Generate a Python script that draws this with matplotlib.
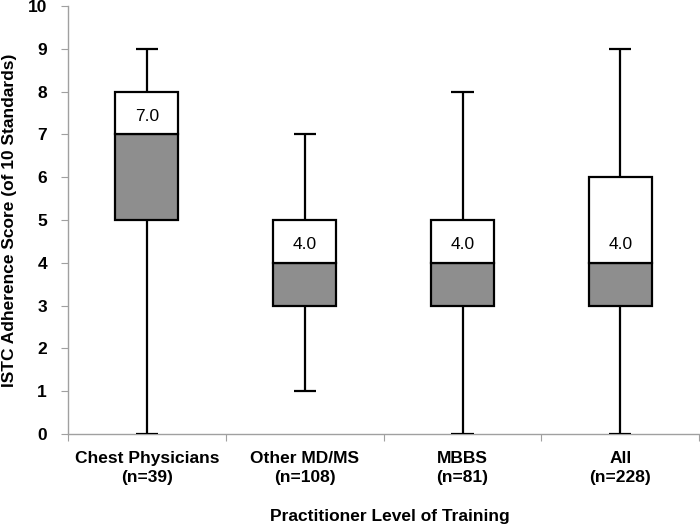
import matplotlib.pyplot as plt

plt.rcParams['font.family'] = ['Liberation Sans', 'DejaVu Sans']

groups = ["Chest Physicians\n(n=39)", "Other MD/MS\n(n=108)", "MBBS\n(n=81)", "All\n(n=228)"]
low = [0, 1, 0, 0]
q1 = [5, 3, 3, 3]
median = [7, 4, 4, 4]
q3 = [8, 5, 5, 6]
high = [9, 7, 8, 9]

fig = plt.figure(figsize=(7, 5.25), dpi=100)
ax = fig.add_axes([0.097, 0.1733, 0.902, 0.8153])

x = list(range(len(groups)))
w = 0.4
cap = 0.14

# whiskers first so boxes sit on top
ax.vlines(x, low, q1, color="black", lw=1.6, zorder=2)
ax.vlines(x, q3, high, color="black", lw=1.6, zorder=2)
ax.hlines(low, [i - cap / 2 for i in x], [i + cap / 2 for i in x], color="black", lw=1.6, zorder=2)
ax.hlines(high, [i - cap / 2 for i in x], [i + cap / 2 for i in x], color="black", lw=1.6, zorder=2)

lower = [m - a for m, a in zip(median, q1)]
upper = [b - m for b, m in zip(q3, median)]
ax.bar(x, lower, width=w, bottom=q1, color="#8e8e8e", edgecolor="black", lw=1.6, zorder=3)
ax.bar(x, upper, width=w, bottom=median, color="white", edgecolor="black", lw=1.6, zorder=3)

for i, m in zip(x, median):
    ax.text(i, m + 0.42, f"{m:.1f}", ha="center", va="center", fontsize=12.5, zorder=4)

ax.set_xlim(-0.5, 3.5)
ax.set_ylim(0, 10)
ax.set_yticks(range(11))
ax.set_xticks([-0.5, 0.5, 1.5, 2.5, 3.5])
ax.set_xticklabels([])
ax.set_xticks(x, minor=True)
ax.set_xticklabels(groups, minor=True, fontsize=12.5, fontweight="bold", linespacing=1.35)
ax.tick_params(axis="x", which="minor", length=0, pad=12)
ax.tick_params(axis="x", which="major", length=5, color="#a0a0a0")
ax.tick_params(axis="y", length=5, color="#a0a0a0", labelsize=12.5, pad=10)
for lab in ax.get_yticklabels():
    lab.set_fontweight("bold")

for s in ["top", "right"]:
    ax.spines[s].set_visible(False)
for s in ["left", "bottom"]:
    ax.spines[s].set_color("#a0a0a0")
    ax.spines[s].set_linewidth(1.0)
ax.spines["bottom"].set_zorder(1)

ax.set_xlabel("Practitioner Level of Training", fontsize=12.5, fontweight="bold", labelpad=14)
ax.xaxis.set_label_coords(0.51, -0.175)
ax.set_ylabel("ISTC Adherence Score (of 10 Standards)", fontsize=12.5, fontweight="bold", labelpad=8)

fig.savefig("out.png", dpi=100)
